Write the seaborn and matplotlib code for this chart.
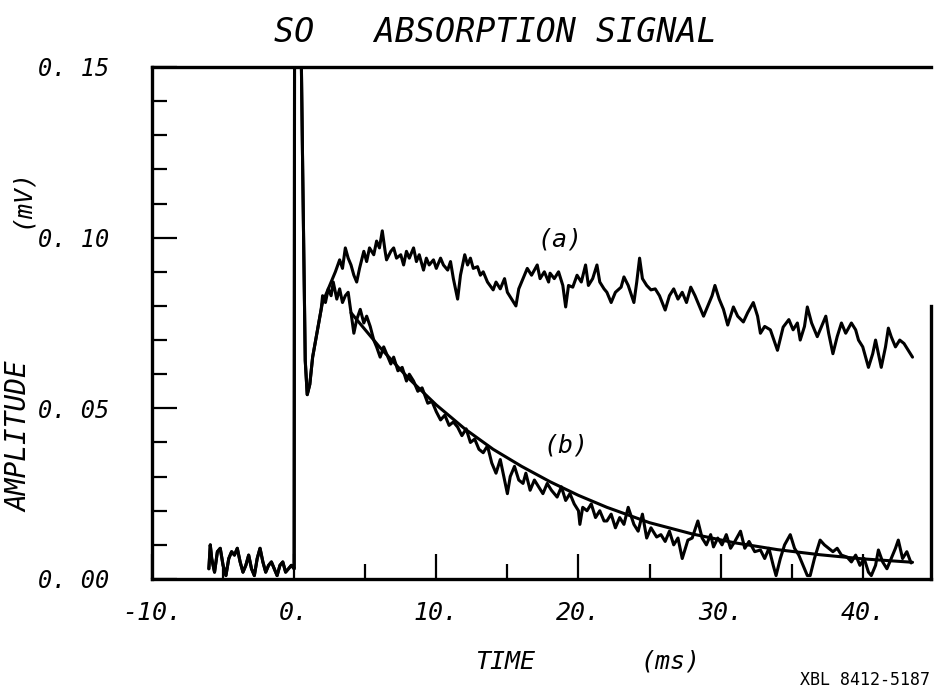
import numpy as np
import pandas as pd
import matplotlib
matplotlib.use("Agg")
import matplotlib.pyplot as plt
import seaborn as sns
from matplotlib.ticker import MultipleLocator, FuncFormatter

# --- shared pre-trigger baseline, trigger spike and dip (ms, mV) ---
TIME_PRE = [-6.0, -5.9, -5.8, -5.6, -5.4, -5.2, -5.0, -4.8, -4.6, -4.4, -4.2, -4.0,
            -3.8, -3.6, -3.4, -3.2, -3.0, -2.8, -2.6, -2.4, -2.2, -2.0, -1.8, -1.6,
            -1.4, -1.2, -1.0, -0.8, -0.6, -0.4, -0.2, 0.0, 0.03, 0.45, 0.6, 0.78,
            0.92, 1.1, 1.3, 1.6, 1.9]
AMP_PRE = [0.003, 0.010, 0.006, 0.002, 0.008, 0.009, 0.004, 0.001, 0.006, 0.008, 0.007, 0.009,
           0.005, 0.002, 0.004, 0.007, 0.003, 0.001, 0.006, 0.009, 0.005, 0.002, 0.004, 0.005,
           0.003, 0.001, 0.004, 0.005, 0.002, 0.003, 0.004, 0.003, 0.17, 0.17, 0.12, 0.064,
           0.054, 0.057, 0.065, 0.072, 0.079]

# --- trace (a) ---
TIME_A = [2.0, 2.3, 2.6, 2.9, 3.2, 3.4, 3.6, 3.8, 4.0, 4.2, 4.4, 4.6, 4.9, 5.1, 5.3, 5.6,
          5.8, 6.0, 6.2, 6.4, 6.5, 6.8, 7.0, 7.2, 7.5, 7.7, 7.9, 8.1, 8.4, 8.6, 8.8, 9.1,
          9.3, 9.5, 9.8, 10.0, 10.3, 10.5, 10.8, 11.0, 11.2, 11.5, 11.7, 12.0, 12.2, 12.4,
          12.6, 12.9, 13.1, 13.3, 13.6, 14.0, 14.2, 14.5, 14.8, 15.0, 15.3, 15.6, 15.8, 16.1,
          16.4, 16.7, 17.1, 17.3, 17.6, 17.9, 18.0, 18.3, 18.6, 18.9, 19.1, 19.3, 19.6, 19.9,
          20.2, 20.5, 20.7, 21.0, 21.3, 21.5, 21.8, 22.0, 22.3, 22.6, 23.0, 23.2, 23.5, 23.9,
          24.1, 24.3, 24.5, 24.8, 25.1, 25.4, 25.7, 26.1, 26.4, 26.7, 27.0, 27.3, 27.6, 27.9,
          28.2, 28.5, 28.8, 29.1, 29.4, 29.6, 29.9, 30.2, 30.5, 30.9, 31.2, 31.6, 31.9, 32.3,
          32.6, 32.8, 33.1, 33.5, 34.0, 34.4, 34.8, 35.1, 35.4, 35.6, 35.9, 36.1, 36.4, 36.8,
          37.1, 37.4, 37.6, 37.9, 38.2, 38.5, 38.8, 39.2, 39.5, 39.7, 40.0, 40.4, 40.7, 40.9,
          41.1, 41.3, 41.6, 41.8, 42.0, 42.3, 42.6, 42.9, 43.2, 43.5]
AMP_A = [0.081, 0.084, 0.087, 0.090, 0.0935, 0.091, 0.097, 0.094, 0.092, 0.089, 0.087, 0.091,
         0.096, 0.093, 0.097, 0.095, 0.099, 0.097, 0.102, 0.096, 0.0935, 0.096, 0.097, 0.094,
         0.095, 0.092, 0.096, 0.094, 0.097, 0.093, 0.095, 0.0905, 0.094, 0.092, 0.0935, 0.091,
         0.094, 0.092, 0.0905, 0.093, 0.088, 0.082, 0.089, 0.095, 0.092, 0.094, 0.091, 0.0915,
         0.089, 0.090, 0.087, 0.0847, 0.087, 0.085, 0.088, 0.084, 0.082, 0.080, 0.085, 0.088,
         0.091, 0.089, 0.092, 0.088, 0.090, 0.087, 0.0896, 0.088, 0.090, 0.086, 0.0797, 0.086,
         0.0855, 0.089, 0.087, 0.092, 0.086, 0.088, 0.092, 0.087, 0.085, 0.084, 0.081, 0.084,
         0.0855, 0.0885, 0.086, 0.081, 0.087, 0.094, 0.088, 0.086, 0.0847, 0.085, 0.083, 0.0788,
         0.083, 0.085, 0.082, 0.084, 0.081, 0.0855, 0.083, 0.080, 0.077, 0.080, 0.083, 0.086,
         0.082, 0.079, 0.0744, 0.0797, 0.077, 0.0753, 0.078, 0.081, 0.077, 0.072, 0.074, 0.073,
         0.067, 0.0738, 0.076, 0.073, 0.075, 0.070, 0.074, 0.0797, 0.075, 0.071, 0.074, 0.077,
         0.072, 0.066, 0.071, 0.075, 0.072, 0.075, 0.073, 0.070, 0.068, 0.062, 0.066, 0.070,
         0.066, 0.062, 0.068, 0.0735, 0.071, 0.068, 0.070, 0.069, 0.067, 0.065]

# --- trace (b) ---
TIME_B = [2.0, 2.2, 2.4, 2.6, 2.75, 3.0, 3.2, 3.4, 3.6, 3.8, 4.0, 4.2, 4.4, 4.65, 4.9, 5.1,
          5.35, 5.6, 5.8, 6.05, 6.3, 6.5, 6.8, 7.0, 7.3, 7.6, 7.9, 8.1, 8.4, 8.7, 9.0, 9.4,
          9.7, 10.0, 10.3, 10.6, 10.9, 11.2, 11.5, 11.8, 12.1, 12.4, 12.7, 13.0, 13.3, 13.6,
          13.9, 14.2, 14.5, 14.8, 15.0, 15.2, 15.5, 15.8, 16.1, 16.3, 16.6, 16.9, 17.2, 17.5,
          17.8, 18.1, 18.5, 18.8, 19.1, 19.4, 19.7, 20.0, 20.1, 20.3, 20.6, 20.9, 21.2, 21.5,
          21.8, 22.0, 22.3, 22.6, 22.9, 23.2, 23.5, 23.9, 24.2, 24.5, 24.8, 25.1, 25.5, 25.8,
          26.1, 26.4, 26.7, 27.0, 27.3, 27.7, 28.0, 28.4, 28.7, 29.0, 29.3, 29.5, 29.8, 30.1,
          30.4, 30.7, 31.0, 31.4, 31.7, 32.0, 32.4, 32.8, 33.1, 33.4, 33.7, 33.9, 34.2, 34.5,
          34.9, 35.2, 35.5, 35.8, 36.1, 36.3, 36.6, 37.0, 37.3, 37.6, 37.9, 38.2, 38.5, 38.9,
          39.2, 39.5, 39.8, 40.1, 40.4, 40.6, 40.9, 41.1, 41.4, 41.7, 42.0, 42.3, 42.5, 42.8,
          43.1, 43.4]
AMP_B = [0.083, 0.081, 0.085, 0.083, 0.087, 0.082, 0.085, 0.081, 0.083, 0.084, 0.078, 0.072,
         0.076, 0.079, 0.075, 0.077, 0.074, 0.070, 0.068, 0.065, 0.068, 0.066, 0.063, 0.065,
         0.061, 0.062, 0.058, 0.060, 0.058, 0.055, 0.056, 0.0515, 0.052, 0.049, 0.0466, 0.048,
         0.045, 0.046, 0.0445, 0.042, 0.044, 0.040, 0.041, 0.038, 0.037, 0.039, 0.034, 0.031,
         0.035, 0.029, 0.025, 0.030, 0.033, 0.029, 0.028, 0.031, 0.026, 0.029, 0.027, 0.025,
         0.028, 0.026, 0.024, 0.027, 0.023, 0.025, 0.022, 0.020, 0.016, 0.021, 0.020, 0.022,
         0.018, 0.020, 0.017, 0.017, 0.019, 0.015, 0.018, 0.016, 0.021, 0.016, 0.014, 0.019,
         0.012, 0.015, 0.0123, 0.013, 0.011, 0.014, 0.010, 0.012, 0.006, 0.0114, 0.012, 0.017,
         0.012, 0.010, 0.013, 0.0094, 0.012, 0.010, 0.013, 0.009, 0.011, 0.014, 0.009, 0.011,
         0.008, 0.0085, 0.006, 0.009, 0.004, 0.001, 0.006, 0.010, 0.013, 0.009, 0.007, 0.004,
         0.001, 0.001, 0.006, 0.0114, 0.010, 0.009, 0.008, 0.009, 0.007, 0.0064, 0.005, 0.007,
         0.004, 0.006, 0.002, 0.001, 0.004, 0.0085, 0.005, 0.003, 0.006, 0.009, 0.0114, 0.006,
         0.008, 0.0047]

# --- smooth decay fit drawn over (b) ---
TIME_FIT = [4.0, 6.0, 8.0, 10.0, 12.0, 14.0, 16.0, 18.0, 20.0, 22.0, 25.0, 28.0, 31.0,
            34.0, 37.0, 40.0, 43.5]
AMP_FIT = [0.078, 0.068, 0.059, 0.051, 0.044, 0.038, 0.033, 0.0285, 0.0245, 0.021, 0.0165,
           0.0132, 0.0106, 0.0086, 0.0071, 0.0059, 0.0049]

X_TICKS = [-10, 0, 10, 20, 30, 40]
Y_TICKS = [0.0, 0.05, 0.10, 0.15]

sns.set_style("ticks")
plt.rcParams["font.family"] = ["DejaVu Sans Mono"]
plt.rcParams["text.color"] = "black"

PLOT_FONT = dict(family="DejaVu Sans Mono", style="italic", color="black")

traces = pd.concat([
    pd.DataFrame({"t": TIME_PRE + TIME_A, "amp": AMP_PRE + AMP_A, "trace": "a"}),
    pd.DataFrame({"t": TIME_PRE + TIME_B, "amp": AMP_PRE + AMP_B, "trace": "b"}),
    pd.DataFrame({"t": TIME_FIT, "amp": AMP_FIT, "trace": "fit"}),
], ignore_index=True)

fig = plt.figure(figsize=(9.35, 6.96), dpi=100)
ax = fig.add_axes([152 / 935, 1 - 579 / 696, (931 - 152) / 935, (579 - 67) / 696])

sns.lineplot(
    data=traces, x="t", y="amp", hue="trace",
    palette={"a": "black", "b": "black", "fit": "black"},
    estimator=None, sort=False, linewidth=2.2, legend=False, ax=ax,
)

ax.set_xlim(-10, 44.8)
ax.set_ylim(0, 0.15)
ax.set_xlabel("")
ax.set_ylabel("")

ax.set_xticks(X_TICKS)
ax.xaxis.set_minor_locator(MultipleLocator(5))
ax.set_yticks(Y_TICKS)
ax.yaxis.set_minor_locator(MultipleLocator(0.01))
ax.xaxis.set_major_formatter(FuncFormatter(lambda v, p: f"{int(round(v))}."))
ax.yaxis.set_major_formatter(FuncFormatter(lambda v, p: f"{v:.2f}".replace(".", ". ")))

ax.tick_params(axis="both", which="both", direction="in", bottom=True, left=True,
               top=False, right=False, color="black", labelcolor="black", width=1.6)
ax.tick_params(axis="both", which="major", length=18, labelsize=17)
ax.tick_params(axis="both", which="minor", length=11)
ax.tick_params(axis="x", which="major", pad=16, labelsize=18)
ax.tick_params(axis="y", which="major", pad=31)
for lab in ax.get_xticklabels() + ax.get_yticklabels():
    lab.set_fontstyle("italic")
    lab.set_family("DejaVu Sans Mono")

for side in ["left", "bottom", "top", "right"]:
    ax.spines[side].set_color("black")
    ax.spines[side].set_linewidth(2.4)
ax.spines["right"].set_bounds(0, 0.08)

ax.text(18.7, 0.0996, "(a)", fontsize=18, ha="center", va="center", **PLOT_FONT)
ax.text(19.1, 0.039, "(b)", fontsize=18, ha="center", va="center", **PLOT_FONT)

fig.text(495 / 935, 1 - 32 / 696, "SO   ABSORPTION SIGNAL", fontsize=24,
         ha="center", va="center", **PLOT_FONT)
fig.text(505 / 935, 1 - 662 / 696, "TIME", fontsize=18, ha="center", va="center", **PLOT_FONT)
fig.text(670 / 935, 1 - 662 / 696, "(ms)", fontsize=18, ha="center", va="center", **PLOT_FONT)
fig.text(19 / 935, 1 - 437 / 696, "AMPLITUDE", fontsize=20, rotation=90,
         ha="center", va="center", **PLOT_FONT)
fig.text(21 / 935, 1 - 198 / 696, "(mV)", fontsize=18, rotation=90,
         ha="center", va="center", **PLOT_FONT)
fig.text(930 / 935, 1 - 680 / 696, "XBL 8412-5187", fontsize=12, ha="right", va="center",
         family="DejaVu Sans Mono", color="black")

fig.savefig("out.png", dpi=100, facecolor="white")
